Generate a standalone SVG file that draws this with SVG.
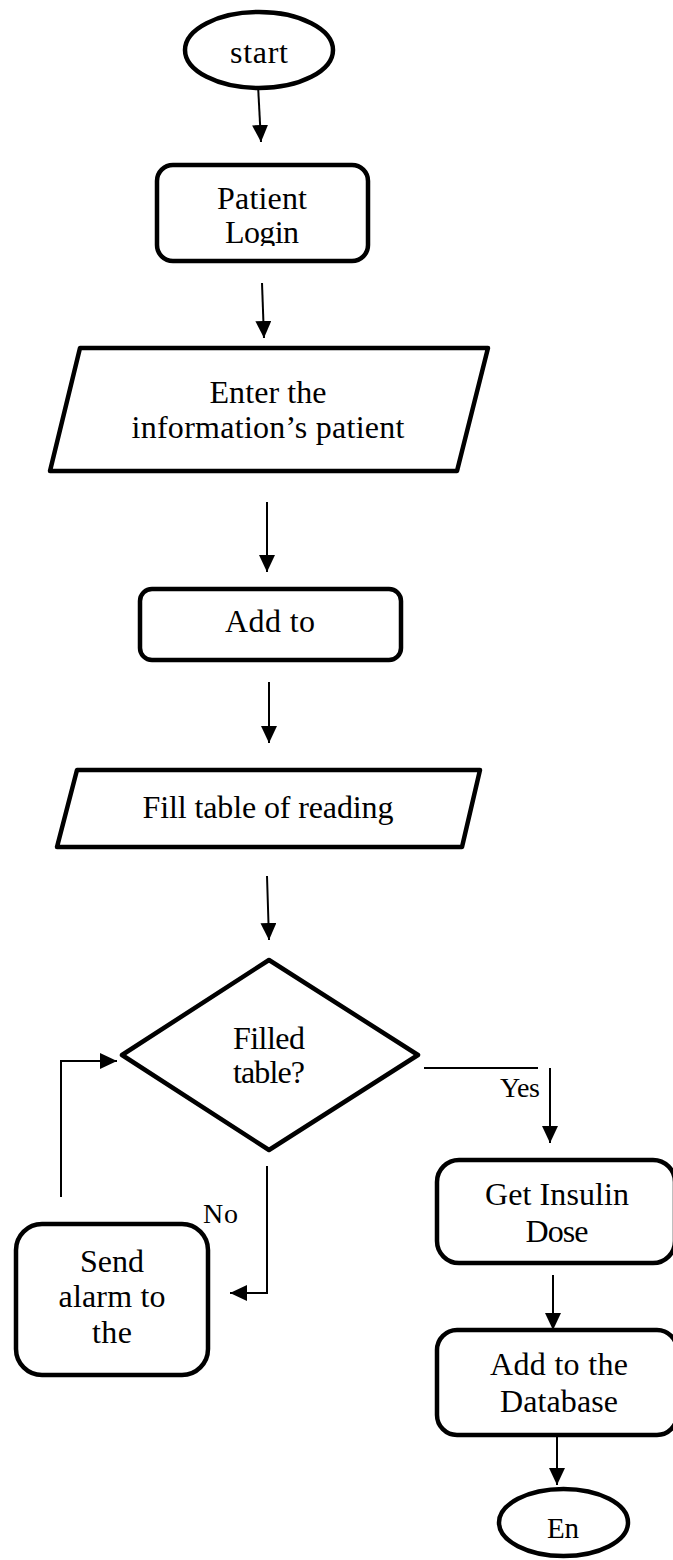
<svg xmlns="http://www.w3.org/2000/svg" width="673" height="1560" viewBox="0 0 673 1560">
<style>
.s{fill:#fff;stroke:#000;stroke-width:4.5;stroke-linejoin:round}
.c{fill:none;stroke:#000;stroke-width:2}
text{font-family:"Liberation Serif","Times New Roman",serif;font-size:32px;fill:#000}
.m{text-anchor:middle}
.l{font-size:28px}
</style>
<defs>
<marker id="ah" markerUnits="userSpaceOnUse" markerWidth="18" markerHeight="17" refX="17" refY="8" orient="auto">
<path d="M0,0 L17,8 L0,16 z" fill="#000"/>
</marker>
<clipPath id="loginClip"><rect x="150" y="160" width="230" height="86"/></clipPath>
</defs>
<rect width="673" height="1560" fill="#fff"/>
<g id="connectors">
<line class="c" x1="258" y1="85" x2="261" y2="142" marker-end="url(#ah)"/>
<line class="c" x1="262" y1="283" x2="264" y2="338" marker-end="url(#ah)"/>
<line class="c" x1="267" y1="502" x2="267" y2="572" marker-end="url(#ah)"/>
<line class="c" x1="269" y1="682" x2="269" y2="743" marker-end="url(#ah)"/>
<line class="c" x1="267" y1="876" x2="269" y2="940" marker-end="url(#ah)"/>
<line class="c" x1="424" y1="1068" x2="538" y2="1068"/>
<line class="c" x1="550" y1="1068" x2="550" y2="1143" marker-end="url(#ah)"/>
<polyline class="c" points="61,1197 61,1061 117,1061" marker-end="url(#ah)"/>
<polyline class="c" points="267,1166 267,1293 230,1293" marker-end="url(#ah)"/>
<line class="c" x1="553" y1="1275" x2="553" y2="1330" marker-end="url(#ah)"/>
<line class="c" x1="557" y1="1430" x2="557" y2="1485" marker-end="url(#ah)"/>
<text class="l" x="500" y="1097" textLength="40">Yes</text>
<text class="l" x="203" y="1223" textLength="35">No</text>
</g>
<g id="start">
<ellipse class="s" cx="259" cy="50" rx="74" ry="38"/>
<text class="m" x="259" y="63" textLength="58">start</text>
</g>
<g id="patient-login">
<rect class="s" x="157" y="165" width="211" height="96" rx="16"/>
<g clip-path="url(#loginClip)">
<text class="m" x="262" y="209" textLength="90">Patient</text>
<text class="m" x="262" y="243" textLength="74">Login</text>
</g>
</g>
<g id="enter-info">
<polygon class="s" points="80,348 488,348 457,471 50,471"/>
<text class="m" x="268" y="403" textLength="117">Enter the</text>
<text class="m" x="268" y="438" textLength="273">information’s patient</text>
</g>
<g id="add-to">
<rect class="s" x="140" y="589" width="261" height="71" rx="12"/>
<text class="m" x="270" y="632" textLength="90">Add to</text>
</g>
<g id="fill-table">
<polygon class="s" points="77,770 480,770 462,847 57,847"/>
<text class="m" x="268" y="818" textLength="251">Fill table of reading</text>
</g>
<g id="filled-decision">
<polygon class="s" points="269,960 418,1055 269,1150 122,1055"/>
<text class="m" x="269" y="1049" textLength="72">Filled</text>
<text class="m" x="269" y="1083" textLength="72">table?</text>
</g>
<g id="send-alarm">
<rect class="s" x="16" y="1224" width="192" height="151" rx="26"/>
<text class="m" x="112" y="1272" textLength="64">Send</text>
<text class="m" x="112" y="1307" textLength="107">alarm to</text>
<text class="m" x="112" y="1343" textLength="40">the</text>
</g>
<g id="get-insulin">
<rect class="s" x="437" y="1160" width="238" height="103" rx="22"/>
<text class="m" x="557" y="1205" textLength="144">Get Insulin</text>
<text class="m" x="557" y="1242" textLength="63">Dose</text>
</g>
<g id="add-database">
<rect class="s" x="437" y="1330" width="240" height="105" rx="20"/>
<text class="m" x="559" y="1375" textLength="138">Add to the</text>
<text class="m" x="559" y="1412" textLength="118">Database</text>
</g>
<g id="end">
<ellipse class="s" cx="563.5" cy="1522.5" rx="64.5" ry="33.5"/>
<text class="m" x="563" y="1538" style="font-size:29px">En</text>
</g>
</svg>
